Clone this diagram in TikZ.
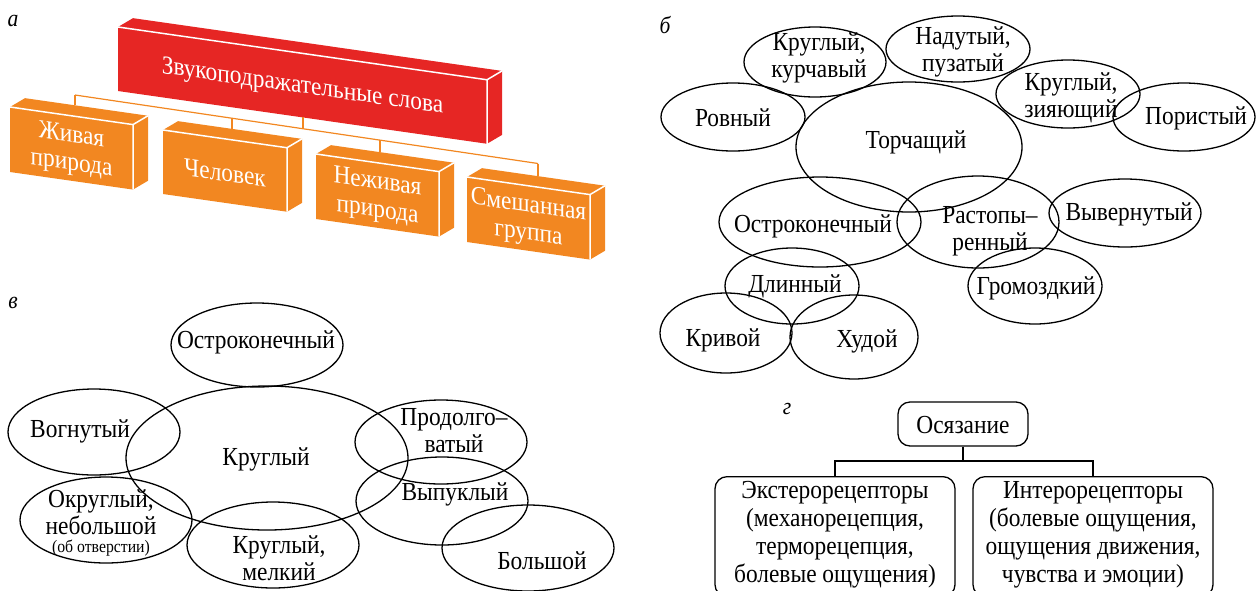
\documentclass[tikz,border=0pt]{standalone}
\usepackage{fontspec}
\setmainfont{Liberation Serif}[FakeStretch=0.9]
\usetikzlibrary{shapes.geometric}
\definecolor{boxred}{RGB}{230,38,36}
\definecolor{boxorange}{RGB}{242,135,33}
\tikzset{
  oval/.style={draw=black, line width=1.3pt, ellipse, inner sep=0pt, outer sep=0pt},
  txt/.style={font=\fontsize{26}{27}\selectfont, align=center, inner sep=0pt},
  gtxt/.style={font=\fontsize{26}{28}\selectfont, align=center, inner sep=0pt},
  smalltxt/.style={font=\fontsize{17.5}{20}\selectfont, align=center, inner sep=0pt},
  lbl/.style={font=\fontsize{24}{26}\selectfont\itshape, inner sep=0pt},
  rbox/.style={draw=black, line width=1.3pt, rounded corners=12pt, inner sep=0pt},
  wtxt/.style={text=white, font=\fontsize{26}{28}\selectfont, align=center, inner sep=0pt, transform shape},
  bus/.style={draw=boxorange, line width=1.2pt},
}
% name, x, y, w, h, colour, text, tick x (local)
\newcommand{\tdbox}[8]{%
  \begin{scope}[shift={(#2,#3)}, yslant=-0.143]
    \fill[#6] (0,0) rectangle (#4,#5);
    \fill[#6] (0,0) -- (#4,0) -- ++(15,-11) -- (15,-11) -- cycle;
    \fill[#6] (#4,0) -- (#4,#5) -- ++(15,-11) -- ++(0,-#5) -- cycle;
    \draw[white, line width=1.5pt, line join=round] (0,0) -- (#4,0) -- (#4,#5) (#4,0) -- ++(15,-11);
    \node[wtxt] (#1) at (#4/2,#5/2+2) {#7};
    \coordinate (#1-t) at (#8,-11);
    \coordinate (#1-b) at (#8,#5);
  \end{scope}}
\begin{document}
\begin{tikzpicture}[x=1pt,y=-1pt]
\useasboundingbox (0,0) rectangle (1258,590);

% ---------------- panel a
\node[lbl] (la) at (13,21) {а};
\tdbox{red}{118}{27}{369}{64}{boxred}{Звукоподражательные слова}{185}
\tdbox{zhiv}{10}{107}{123}{65}{boxorange}{Живая\\природа}{65}
\tdbox{chel}{163}{130}{124}{64}{boxorange}{Человек}{69}
\tdbox{nezh}{316}{154}{123}{65}{boxorange}{Неживая\\природа}{64}
\tdbox{smesh}{467}{177}{123}{65}{boxorange}{Смешанная\\группа}{71}
\coordinate (j1) at (75,95);
\coordinate (j2) at (232,118.2);
\coordinate (j0) at (303,128.7);
\coordinate (j3) at (380,140.1);
\coordinate (j4) at (538,163.5);
\draw[bus] (j1) -- (j4);
\draw[bus] (red-b) -- (j0);
\draw[bus] (j1) -- (zhiv-t);
\draw[bus] (j2) -- (chel-t);
\draw[bus] (j3) -- (nezh-t);
\draw[bus] (j4) -- (smesh-t);

% ---------------- panel b
\node[lbl] (lb) at (665,25) {б};
\node[oval, minimum width=142, minimum height=70] (b1) at (815,62) {};
\node[oval, minimum width=144, minimum height=66] (b2) at (958,49) {};
\node[oval, minimum width=144, minimum height=68] (b3) at (1068,94) {};
\node[oval, minimum width=142, minimum height=68] (b4) at (1184,117) {};
\node[oval, minimum width=144, minimum height=68] (b5) at (733,117) {};
\node[oval, minimum width=226, minimum height=130] (b6) at (909,147) {};
\node[oval, minimum width=202, minimum height=90] (b7) at (820,222) {};
\node[oval, minimum width=162, minimum height=92] (b8) at (978,222) {};
\node[oval, minimum width=152, minimum height=68] (b9) at (1125,213) {};
\node[oval, minimum width=134, minimum height=76] (b10) at (1035,286) {};
\node[oval, minimum width=134, minimum height=76] (b11) at (792,286) {};
\node[oval, minimum width=132, minimum height=80] (b12) at (726,333) {};
\node[oval, minimum width=128, minimum height=84] (b13) at (854,337) {};
\node[txt] (tb1) at (819,58) {Круглый,\\курчавый};
\node[txt] (tb2) at (963,52) {Надутый,\\пузатый};
\node[txt] (tb3) at (1071,98) {Круглый,\\зияющий};
\node[txt] (tb4) at (1196,118) {Пористый};
\node[txt] (tb5) at (733,118) {Ровный};
\node[txt] (tb6) at (916,142) {Торчащий};
\node[txt] (tb7) at (813,226) {Остроконечный};
\node[txt] (tb8) at (990,231) {Растопы–\\ренный};
\node[txt] (tb9) at (1129,214) {Вывернутый};
\node[txt] (tb10) at (1036,288) {Громоздкий};
\node[txt] (tb11) at (795,286) {Длинный};
\node[txt] (tb12) at (723,340) {Кривой};
\node[txt] (tb13) at (867,341) {Худой};

% ---------------- panel v
\node[lbl] (lv) at (13,303) {в};
\node[oval, minimum width=172, minimum height=84] (c1) at (257,345) {};
\node[oval, minimum width=282, minimum height=144] (c2) at (267,458) {};
\node[oval, minimum width=172, minimum height=86] (c3) at (94,432) {};
\node[oval, minimum width=172, minimum height=84] (c4) at (441,442) {};
\node[oval, minimum width=172, minimum height=88] (c5) at (442,501) {};
\node[oval, minimum width=172, minimum height=86] (c6) at (106,520) {};
\node[oval, minimum width=172, minimum height=86] (c7) at (273,545) {};
\node[oval, minimum width=172, minimum height=86] (c8) at (528,548) {};
\node[txt] (tc1) at (256,342) {Остроконечный};
\node[txt] (tc2) at (266,459) {Круглый};
\node[txt] (tc3) at (80,431) {Вогнутый};
\node[txt] (tc4) at (454,431) {Продолго–\\ватый};
\node[txt] (tc5) at (455,494) {Выпуклый};
\node[txt] (tc6) at (101,512) {Округлый,\\небольшой};
\node[smalltxt] (tc6b) at (101,548) {(об отверстии)};
\node[txt] (tc7) at (279,558) {Круглый,\\мелкий};
\node[txt] (tc8) at (542,561) {Большой};

% ---------------- panel g
\node[lbl] (lg) at (787,409) {г};
\node[rbox, minimum width=130, minimum height=44] (osy) at (963,424) {};
\node[gtxt] (tosy) at (963,425) {Осязание};
\node[rbox, minimum width=240, minimum height=120, anchor=north] (ext) at (835,476) {};
\node[rbox, minimum width=240, minimum height=120, anchor=north] (int) at (1093,476) {};
\node[gtxt] (text) at (835,535) {Экстерорецепторы\\(механорецепция,\\терморецепция,\\болевые ощущения)};
\node[gtxt] (tint) at (1093,535) {Интерорецепторы\\(болевые ощущения,\\ощущения движения,\\чувства и эмоции)};
\draw[line width=1.3pt] (osy.south) -- ++(0,15);
\draw[line width=1.3pt] (ext.north) -- ++(0,-15) -| (int.north);
\end{tikzpicture}
\end{document}
